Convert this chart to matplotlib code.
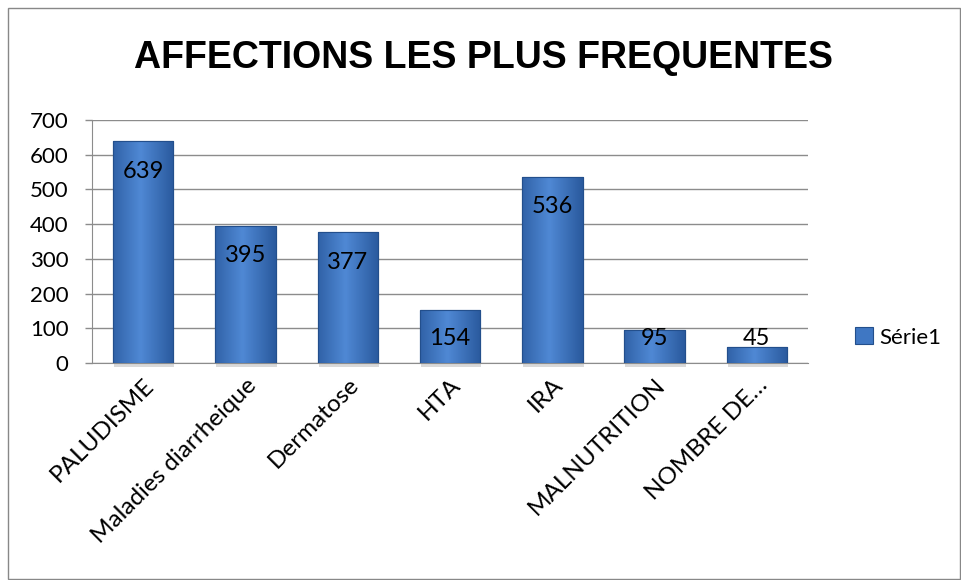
import matplotlib.pyplot as plt
import numpy as np
from matplotlib.patches import Rectangle
from matplotlib.colors import LinearSegmentedColormap

categories = ["PALUDISME", "Maladies diarrheique", "Dermatose", "HTA", "IRA",
              "MALNUTRITION", "NOMBRE DE…"]
values = [639, 395, 377, 154, 536, 95, 45]
yticks = [0, 100, 200, 300, 400, 500, 600, 700]

plt.rcParams['font.family'] = ['Lato', 'DejaVu Sans']

fig = plt.figure(figsize=(9.62, 5.8), dpi=100)
fig.patches.append(Rectangle((0.008, 0.002), 0.99, 0.984, transform=fig.transFigure,
                             fill=False, edgecolor='#888888', linewidth=1))
ax = fig.add_axes([0.0956, 0.374, 0.7444, 0.419])

x = np.arange(len(categories))
bars = ax.bar(x, values, width=0.59, color='#3F77C3', edgecolor='#234f8c',
              linewidth=0.8, zorder=3, label='Série1')

# horizontal gradient on each bar, a bit like the Excel bevel
grad = np.linspace(0, 1, 64)
grad = 1 - np.abs(grad - 0.45) * 2
grad = np.vstack([grad, grad])
cmap = LinearSegmentedColormap.from_list('b', ['#2a5a9e', '#4f88d4'])
for b in bars:
    bx, by = b.get_x(), b.get_y()
    w, h = b.get_width(), b.get_height()
    # soft shadow under the bar
    ax.add_patch(Rectangle((bx + 0.01, by - 10), w, 12, facecolor='#000000',
                           alpha=0.15, edgecolor='none', zorder=2, clip_on=False))
    im = ax.imshow(grad, extent=[bx, bx + w, by, by + h], aspect='auto',
                   cmap=cmap, zorder=3.5)
    im.set_clip_path(b)
    ax.add_patch(Rectangle((bx, by), w, h, fill=False, edgecolor='#234f8c',
                           linewidth=0.8, zorder=4))

for xi, v in zip(x, values):
    ax.text(xi, max(v - 86, 72), str(v), ha='center', va='center',
            fontsize=17, zorder=5)

ax.set_xlim(-0.5, len(categories) - 0.5)
ax.set_ylim(0, 700)
ax.set_yticks(yticks)
ax.tick_params(axis='y', labelsize=16, length=5, width=1, color='#8c8c8c',
               direction='out', pad=12)
ax.set_xticks(x)
ax.set_xticklabels(categories, rotation=45, ha='right', rotation_mode='anchor',
                   fontsize=17.5)
ax.tick_params(axis='x', length=0, pad=8)
ax.yaxis.grid(True, color='#8c8c8c', linewidth=1, zorder=0)
ax.set_axisbelow(True)
for s in ['top', 'right']:
    ax.spines[s].set_visible(False)
ax.spines['left'].set_color('#8c8c8c')
ax.spines['bottom'].set_color('#8c8c8c')

fig.text(0.503, 0.9, "AFFECTIONS LES PLUS FREQUENTES", ha='center', va='center',
         fontsize=27, fontweight='bold', family=['Liberation Sans', 'DejaVu Sans'])

leg = fig.legend(handles=[bars], labels=['Série1'], loc='center left',
                 bbox_to_anchor=(0.868, 0.418), frameon=False, fontsize=16,
                 handlelength=0.8, handleheight=0.8, handletextpad=0.3)

fig.savefig("out.png", dpi=100)
plt.close()
